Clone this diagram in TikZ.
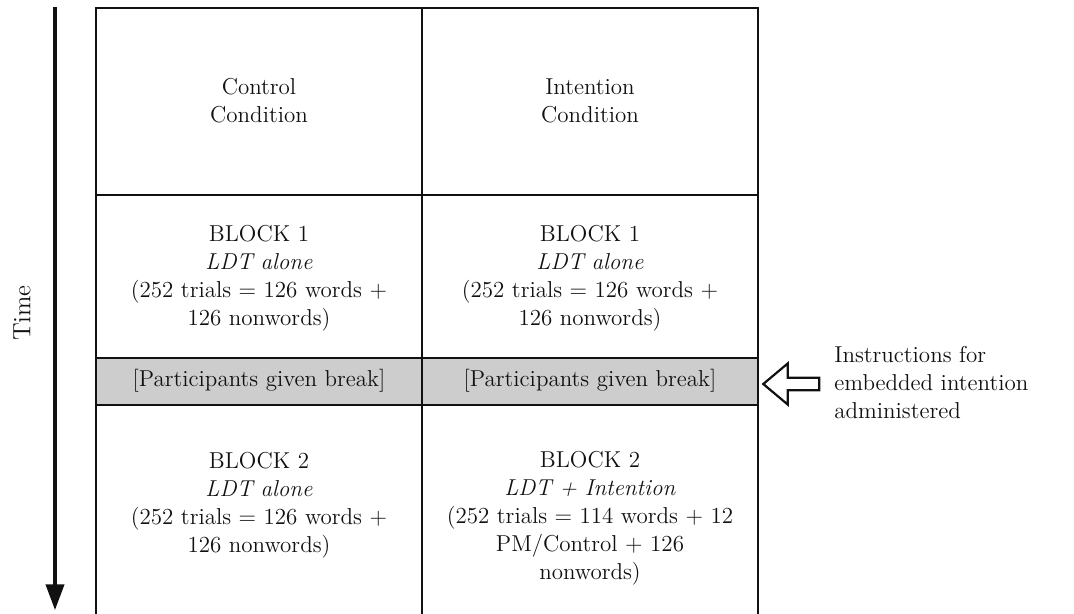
\documentclass[tikz,border=0pt]{standalone}
\usepackage{xcolor}
\usepackage{tikz}
\usetikzlibrary{shapes.arrows,arrows.meta,positioning,calc}
\definecolor{pmink}{HTML}{111111}
\definecolor{pmbreak}{HTML}{CDCDCD}
\tikzset{
  celltext/.style={align=center,font=\fontsize{11.5}{14}\selectfont,text=pmink,inner sep=0pt},
  sidetext/.style={align=left,font=\fontsize{11.5}{14}\selectfont,text=pmink,inner sep=0pt},
  grid/.style={draw=pmink,line width=1pt},
  timeline/.style={-{Triangle[length=4.5mm,width=3.2mm]},line width=1.6pt,draw=pmink},
  hollow/.style={single arrow,draw=pmink,line width=1.1pt,fill=white,shape border rotate=180,
                 minimum height=28pt,minimum width=16pt,inner sep=2.6pt,single arrow tip angle=80},
}

\begin{document}
\begin{tikzpicture}[x=0.5pt,y=-0.5pt]
  \useasboundingbox (0,0) rectangle (1074,614);
  % table
  \fill[pmbreak] (96,358) rectangle (758,405);
  \draw[grid] (96,614) -- (96,8) -- (758,8) -- (758,614);
  \draw[grid] (422,8) -- (422,614);
  \draw[grid] (96,195) -- (758,195);
  \draw[grid] (96,358) -- (758,358);
  \draw[grid] (96,405) -- (758,405);
  % header row
  \node[celltext] (ctrl) at (259,101) {Control\\Condition};
  \node[celltext] (intn) at (590,101) {Intention\\Condition};
  % block 1
  \node[celltext] (ctrlA) at (259,278) {BLOCK 1\\\textit{LDT alone}\\(252 trials = 126 words +\\126 nonwords)};
  \node[celltext] (intnA) at (590,278) {BLOCK 1\\\textit{LDT alone}\\(252 trials = 126 words +\\126 nonwords)};
  % break
  \node[celltext] (ctrlB) at (259,381) {[Participants given break]};
  \node[celltext] (intnB) at (590,381) {[Participants given break]};
  % block 2
  \node[celltext] (ctrlC) at (259,505) {BLOCK 2\\\textit{LDT alone}\\(252 trials = 126 words +\\126 nonwords)};
  \node[celltext] (intnC) at (590,518) {BLOCK 2\\\textit{LDT + Intention}\\(252 trials = 114 words + 12\\PM/Control + 126\\nonwords)};
  % time axis
  \coordinate (ttop) at (55,7);
  \coordinate (tbot) at (55,610);
  \draw[timeline] (ttop) -- (tbot);
  \node[celltext,rotate=90,font=\fontsize{12.5}{14}\selectfont] (time) at (22,313) {Time};
  % instructions
  \node[sidetext,anchor=west] (instr) at (834,383) {Instructions for\\embedded intention\\administered};
  \node[hollow] (cue) at (795,384) {};
\end{tikzpicture}
\end{document}
